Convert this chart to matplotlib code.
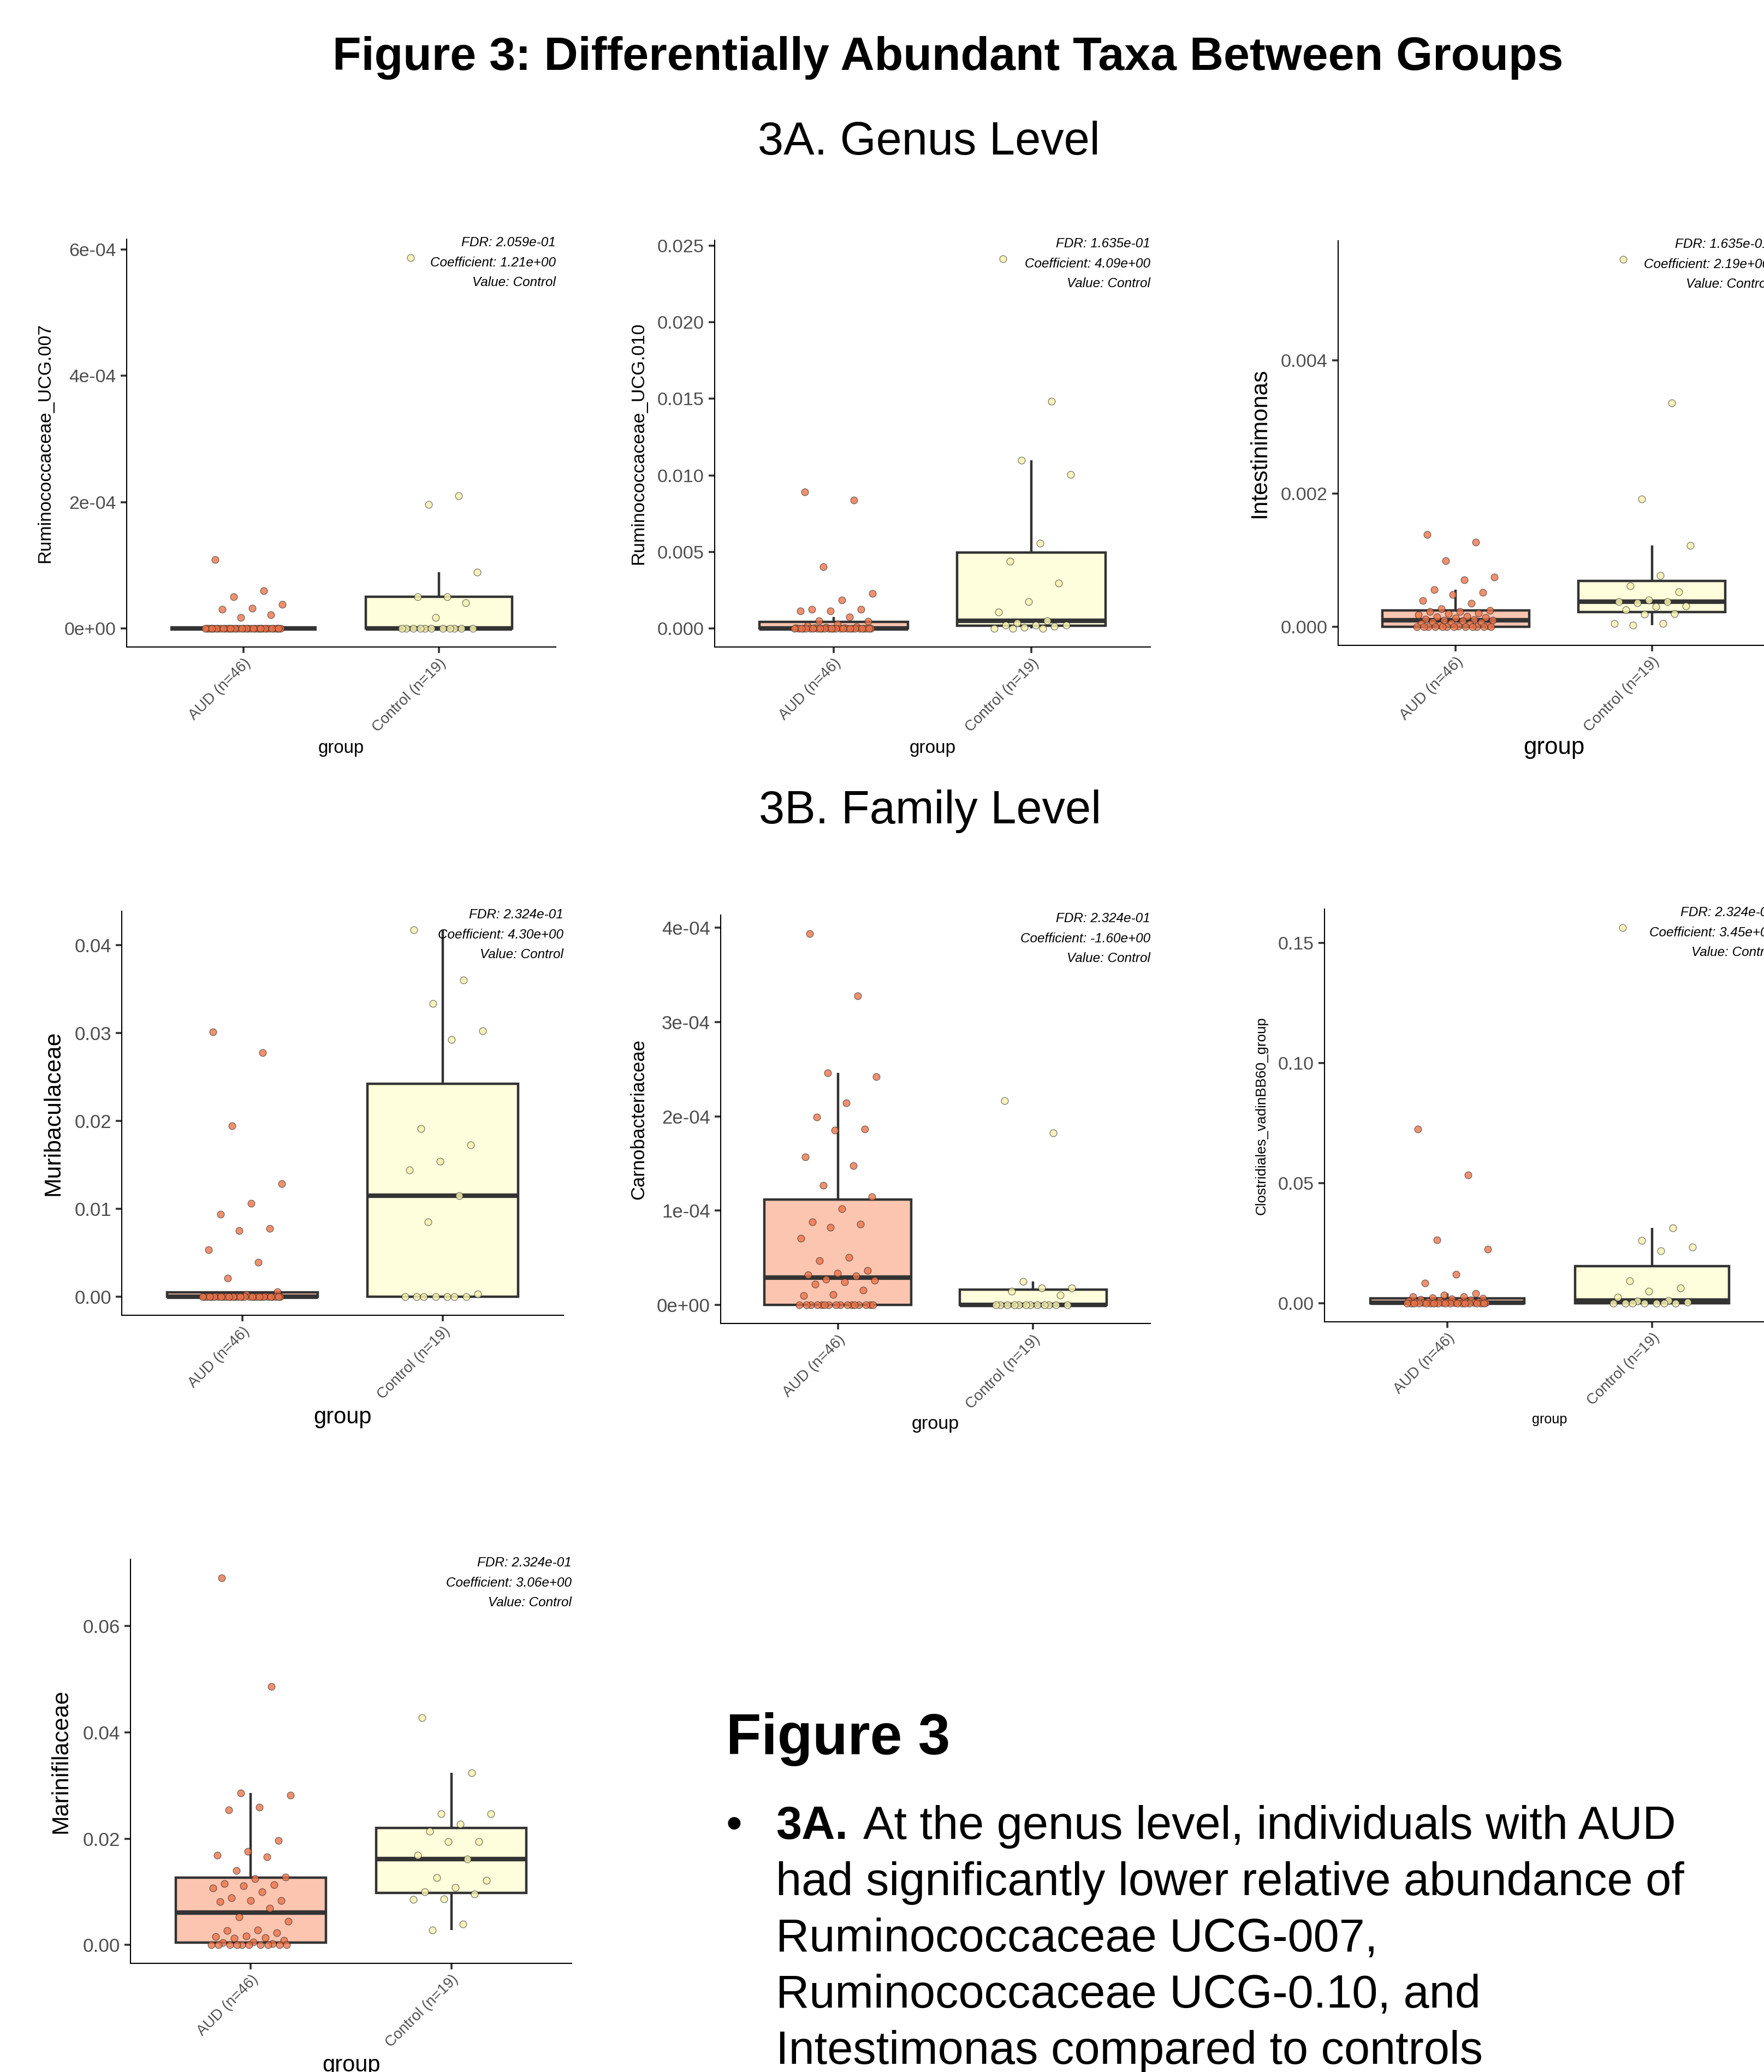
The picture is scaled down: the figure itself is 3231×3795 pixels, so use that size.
import numpy as np
import matplotlib
matplotlib.use("Agg")
import matplotlib.pyplot as plt

plt.rcParams['font.family'] = ['Liberation Sans', 'DejaVu Sans']

# ---------------- data ----------------
group_labels = ["AUD (n=46)", "Control (n=19)"]

# 3A genus level
aud_rum007 = [1.087e-4, 5.93e-5, 5.05e-5, 3.84e-5, 3.18e-5, 3.07e-5, 2.2e-5, 1.76e-5] + [0.0] * 38
ctl_rum007 = [5.87e-4, 2.097e-4, 1.965e-4, 8.95e-5, 5.05e-5, 5.05e-5, 4.06e-5, 1.76e-5] + [0.0] * 11

aud_rum010 = [0.00891, 0.00837, 0.00402, 0.00228, 0.00187, 0.00126, 0.00126, 0.00115, 0.00115,
              0.00074, 0.00052, 0.00047, 0.00029, 0.00018, 0.00012, 0.00008, 0.00005, 0.00004,
              0.00003, 0.00002, 0.00002, 0.00001, 0.00001] + [0.0] * 23
ctl_rum010 = [0.02414, 0.01482, 0.01097, 0.01004, 0.00557, 0.00438, 0.00298, 0.00176, 0.00106,
              0.00052, 0.00036, 0.00023, 0.00023, 0.00023, 0.00014, 0.00007, 0.00002, 0.0, 0.0]

aud_intest = [0.001384, 0.001274, 0.000997, 0.000747, 0.00071, 0.000559, 0.000517, 0.000486,
              0.000392, 0.000355, 0.000277, 0.00025, 0.000235, 0.00023, 0.00021, 0.0002, 0.00018,
              0.00016, 0.00015, 0.00014, 0.00013, 0.00012, 0.00011, 0.0001, 0.0001, 0.00009,
              0.00008, 0.00007, 0.00006, 0.00005, 0.00004, 0.00003, 0.00002, 0.00001] + [0.0] * 12
ctl_intest = [0.00552, 0.003363, 0.001922, 0.001227, 0.000773, 0.000616, 0.000527, 0.000407,
              0.00038, 0.000376, 0.00036, 0.000313, 0.000303, 0.000256, 0.000198, 0.000188,
              0.000052, 0.000052, 0.000026]

# 3B family level
aud_muri = [0.03017, 0.02776, 0.01946, 0.0129, 0.01062, 0.00938, 0.00776, 0.00751, 0.00539,
            0.00394, 0.00216, 0.00058, 0.00029, 0.0001, 0.00008, 0.00005, 0.00003, 0.00002,
            0.00001] + [0.0] * 27
ctl_muri = [0.04178, 0.03602, 0.0334, 0.03025, 0.0293, 0.01917, 0.0173, 0.01544, 0.01444,
            0.01149, 0.00855, 0.00033] + [0.0] * 7

aud_carno = [3.938e-4, 3.277e-4, 2.464e-4, 2.422e-4, 2.143e-4, 1.992e-4, 1.865e-4, 1.853e-4,
             1.567e-4, 1.474e-4, 1.269e-4, 1.149e-4, 1.021e-4, 8.78e-5, 8.59e-5, 8.2e-5, 7.04e-5,
             5.03e-5, 4.68e-5, 3.64e-5, 3.37e-5, 3.17e-5, 3.09e-5, 2.71e-5, 2.63e-5, 2.44e-5,
             2.2e-5, 1.55e-5, 1.08e-5, 9.7e-6] + [0.0] * 16
ctl_carno = [2.166e-4, 1.826e-4, 2.51e-5, 1.78e-5, 1.78e-5, 1.43e-5, 1.04e-5] + [0.0] * 12

aud_clost = [0.0725, 0.0533, 0.0263, 0.0225, 0.01185, 0.00836, 0.00395, 0.00334, 0.00274,
             0.00258, 0.0021, 0.0019, 0.0017, 0.0015, 0.0013, 0.0011, 0.0009, 0.0007, 0.0006,
             0.0005, 0.0004, 0.0003, 0.0003, 0.0002, 0.0002, 0.0001, 0.0001, 0.0001,
             0.0001] + [0.0] * 17
ctl_clost = [0.1562, 0.0313, 0.0261, 0.0234, 0.0217, 0.00927, 0.00623, 0.00486, 0.00243,
             0.00106, 0.00076, 0.00046] + [0.0] * 7

aud_marini = [0.06907, 0.0486, 0.02859, 0.0282, 0.02586, 0.0254, 0.01969, 0.01761, 0.01683,
              0.01657, 0.01404, 0.01274, 0.01241, 0.01157, 0.0113, 0.01111, 0.01072, 0.01,
              0.0089, 0.00838, 0.00832, 0.00812, 0.00689, 0.00526, 0.00442, 0.00279, 0.00273,
              0.00234, 0.00169, 0.00156, 0.00136, 0.00123, 0.00091, 0.00058, 0.0004,
              0.0002] + [0.0] * 10
ctl_marini = [0.04276, 0.03236, 0.02469, 0.02469, 0.02274, 0.02138, 0.01949, 0.01949, 0.01689,
              0.01611, 0.01267, 0.01215, 0.01085, 0.01001, 0.00955, 0.00864, 0.00858, 0.00396,
              0.00279]

# y tick values / labels
yt_rum007 = [0, 2e-4, 4e-4, 6e-4]
ytl_rum007 = ["0e+00", "2e-04", "4e-04", "6e-04"]
yt_rum010 = [0, 0.005, 0.010, 0.015, 0.020, 0.025]
ytl_rum010 = ["0.000", "0.005", "0.010", "0.015", "0.020", "0.025"]
yt_intest = [0, 0.002, 0.004]
ytl_intest = ["0.000", "0.002", "0.004"]
yt_muri = [0, 0.01, 0.02, 0.03, 0.04]
ytl_muri = ["0.00", "0.01", "0.02", "0.03", "0.04"]
yt_carno = [0, 1e-4, 2e-4, 3e-4, 4e-4]
ytl_carno = ["0e+00", "1e-04", "2e-04", "3e-04", "4e-04"]
yt_clost = [0, 0.05, 0.10, 0.15]
ytl_clost = ["0.00", "0.05", "0.10", "0.15"]
yt_marini = [0, 0.02, 0.04, 0.06]
ytl_marini = ["0.00", "0.02", "0.04", "0.06"]

# annotation values
fdr_vals = ["2.059e-01", "1.635e-01", "1.635e-01", "2.324e-01", "2.324e-01", "2.324e-01", "2.324e-01"]
coef_vals = ["1.21e+00", "4.09e+00", "2.19e+00", "4.30e+00", "-1.60e+00", "3.45e+00", "3.06e+00"]
value_label = "Control"

title_text = "Figure 3: Differentially Abundant Taxa Between Groups"
sub_a = "3A. Genus Level"
sub_b = "3B. Family Level"
side_title = "Figure 3"
bullet_lead = "3A."
bullet_lines = ["At the genus level, individuals with AUD",
                "had significantly lower relative abundance of",
                "Ruminococcaceae UCG-007,",
                "Ruminococcaceae UCG-0.10, and",
                "Intestimonas compared to controls"]

# ---------------- figure ----------------
W, H = 3231, 3795
fig = plt.figure(figsize=(W / 100, H / 100), dpi=100)
fig.patch.set_facecolor('white')

BOX_FILL = ['#FCC5B0', '#FEFDDC']
PT_FILL = [(0.925, 0.455, 0.29, 0.8), (0.965, 0.949, 0.69, 0.85)]
PT_EDGE = (0.12, 0.12, 0.12, 0.6)


def draw_panel(rect, aud, ctl, ylabel, yticks, yticklabels, idx, fs, ylab_x, xlab_y):
    x0, y0, x1, y1 = rect
    ax = fig.add_axes([x0 / W, 1 - y1 / H, (x1 - x0) / W, (y1 - y0) / H])
    data = [np.asarray(aud, float), np.asarray(ctl, float)]
    bp = ax.boxplot(data, positions=[1, 2], widths=0.75, patch_artist=True,
                    showfliers=False, showcaps=False, whis=1.5,
                    boxprops=dict(linewidth=3.2, edgecolor='#333333'),
                    medianprops=dict(color='#333333', linewidth=6.0, solid_capstyle='butt'),
                    whiskerprops=dict(color='#333333', linewidth=3.2, solid_capstyle='butt'))
    for patch, c in zip(bp['boxes'], BOX_FILL):
        patch.set_facecolor(c)
    for i, vals in enumerate(data):
        k = np.arange(len(vals))
        jit = 0.2 * (2.0 * ((k * 0.6180339887 + 0.137) % 1.0) - 1.0)
        ax.scatter(i + 1 + jit, vals, s=85, facecolors=[PT_FILL[i]], edgecolors=[PT_EDGE],
                   linewidths=0.9, zorder=4)
    allv = np.concatenate(data)
    lo, hi = allv.min(), allv.max()
    pad = 0.05 * (hi - lo)
    ax.set_ylim(lo - pad, hi + pad)
    ax.set_xlim(0.4, 2.6)
    for s in ['top', 'right']:
        ax.spines[s].set_visible(False)
    for s in ['left', 'bottom']:
        ax.spines[s].set_linewidth(1.5)
        ax.spines[s].set_color('black')
    ax.tick_params(axis='both', direction='out', length=7.7, width=2.6, color='#333333',
                   labelcolor='#4D4D4D')
    ax.set_yticks(yticks)
    ax.set_yticklabels(yticklabels, fontsize=fs[0])
    ax.tick_params(axis='y', pad=6)
    ax.set_xticks([1, 2])
    ax.set_xticklabels(group_labels, rotation=45, ha='right', va='top',
                       rotation_mode='anchor', fontsize=fs[2])
    ax.tick_params(axis='x', pad=4)
    ax.set_ylabel(ylabel, fontsize=fs[1], color='black')
    ax.yaxis.set_label_coords((ylab_x - x0) / (x1 - x0), 0.5)
    ax.yaxis.label.set_va('center')
    ax.set_xlabel('group', fontsize=fs[3], color='black')
    ax.xaxis.set_label_coords(0.5, (y1 - xlab_y) / (y1 - y0))
    ax.xaxis.label.set_va('center')
    notes = ["FDR: " + fdr_vals[idx], "Coefficient: " + coef_vals[idx], "Value: " + value_label]
    for j, line in enumerate(notes):
        ax.annotate(line, xy=(1, 1), xycoords='axes fraction', xytext=(0, -5 - 26 * j),
                    textcoords='offset points', ha='right', va='center', fontsize=17.5,
                    style='italic', color='black', annotation_clip=False)
    return ax


# (tick, ylabel, xtick, xlabel) font sizes
draw_panel((232, 438, 1018, 1185), aud_rum007, ctl_rum007, "Ruminococcaceae_UCG.007",
           yt_rum007, ytl_rum007, 0, (24.3, 24.4, 20, 23.7), 83, 1370)
draw_panel((1309, 440, 2107, 1185), aud_rum010, ctl_rum010, "Ruminococcaceae_UCG.010",
           yt_rum010, ytl_rum010, 1, (24.7, 24.7, 20, 24), 1170, 1370)
draw_panel((2451, 441, 3241, 1182), aud_intest, ctl_intest, "Intestinimonas",
           yt_intest, ytl_intest, 2, (24.7, 30.7, 20.5, 31.5), 2307, 1370)
draw_panel((223, 1669, 1032, 2409), aud_muri, ctl_muri, "Muribaculaceae",
           yt_muri, ytl_muri, 3, (25, 30.8, 19.8, 30), 98, 2596)
draw_panel((1320, 1676, 2107, 2424), aud_carno, ctl_carno, "Carnobacteriaceae",
           yt_carno, ytl_carno, 4, (25, 25, 20.2, 24.6), 1170, 2608)
draw_panel((2426, 1665, 3251, 2421), aud_clost, ctl_clost, "Clostridiales_vadinBB60_group",
           yt_clost, ytl_clost, 5, (24.3, 18.7, 19.6, 18.2), 2311, 2600)
draw_panel((239, 2856, 1047, 3596), aud_marini, ctl_marini, "Marinifilaceae",
           yt_marini, ytl_marini, 6, (25.2, 30.8, 19.8, 30), 112, 3783)

# ---------------- text ----------------
fig.text(1736 / W, 1 - 128 / H, title_text, ha='center', va='baseline', fontsize=62,
         fontweight='bold')
fig.text(1701 / W, 1 - 283 / H, sub_a, ha='center', va='baseline', fontsize=61)
fig.text(1704 / W, 1 - 1508 / H, sub_b, ha='center', va='baseline', fontsize=61)
fig.text(1330 / W, 1 - 3213 / H, side_title, ha='left', va='baseline', fontsize=76,
         fontweight='bold')

base0 = 3368
step = 103
fig.text(1330 / W, 1 - base0 / H, "\u2022", ha='left', va='baseline', fontsize=61)
lead = fig.text(1421 / W, 1 - base0 / H, bullet_lead, ha='left', va='baseline', fontsize=61,
                fontweight='bold')
renderer = fig.canvas.get_renderer()
bb = lead.get_window_extent(renderer=renderer)
fig.text((bb.x1 + 28) / W, 1 - base0 / H, bullet_lines[0], ha='left', va='baseline',
         fontsize=61)
for i, line in enumerate(bullet_lines[1:], start=1):
    fig.text(1421 / W, 1 - (base0 + step * i) / H, line, ha='left', va='baseline', fontsize=61)

fig.savefig("out.png", dpi=100, facecolor='white')
